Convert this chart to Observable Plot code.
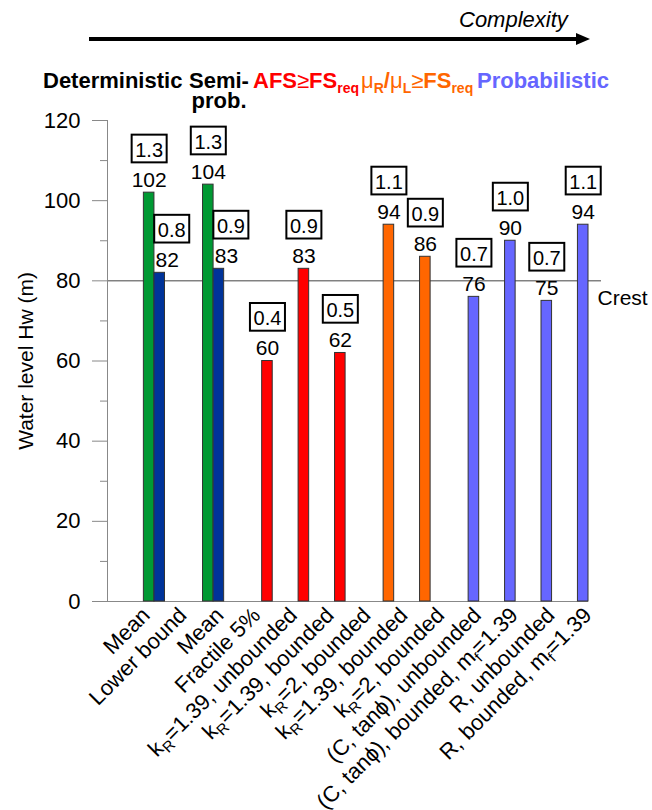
<!DOCTYPE html>
<html><head><meta charset="utf-8">
<script src="https://cdn.jsdelivr.net/npm/d3@7"></script>
<script src="https://cdn.jsdelivr.net/npm/@observablehq/plot@0.6"></script>
<style>
html,body{margin:0;padding:0;background:#fff;}
#root{width:652px;height:810px;position:relative;font-family:"Liberation Sans",Arial,sans-serif;}
</style></head><body><div id="root"></div>
<script>
// ---- data ----
const categories = ["Mean","Lower bound","Mean","Fractile 5%","k_R=1.39, unbounded","k_R=1.39, bounded","k_R=2, bounded","k_R=1.39, bounded","k_R=2, bounded","(C, tan\u03D5), unbounded","(C, tan\u03D5), bounded, m_f=1.39","R, unbounded","R, bounded, m_f=1.39"];
const waterLevels = [102, 82, 104, 83, 60, 83, 62, 94, 86, 76, 90, 75, 94];
const safetyRatios = ["1.3","0.8","1.3","0.9","0.4","0.9","0.5","1.1","0.9","0.7","1.0","0.7","1.1"];
const methodGroups = ["Deterministic","Deterministic","Semi-prob.","Semi-prob.","AFS","AFS","AFS","mu","mu","Probabilistic","Probabilistic","Probabilistic","Probabilistic"];
const seriesKinds = ["mean","lower","mean","lower","afs","afs","afs","mu","mu","prob","prob","prob","prob"];
const seriesNames = ["mean","lower","afs","mu","prob"];
const seriesColors = ["#009933","#003399","#ff0000","#ff6600","#6666ff"];
const yTicks = [0, 20, 40, 60, 80, 100, 120];
const yMinorTicks = [10, 30, 50, 70, 90, 110];
const crestLevel = 80;
const pairedGroups = ["Deterministic","Semi-prob."];

// ---- layout (x-scale units) ----
const barWidth = 0.87, singleStep = 3, groupGap = 4, labelStep = 3.03, leftPad = 3.43;
let p = 0;
const data = categories.map((c, i) => {
  if (i > 0) p += methodGroups[i] !== methodGroups[i-1] ? groupGap : (pairedGroups.includes(methodGroups[i]) ? barWidth : singleStep);
  return {i, category: c, value: waterLevels[i], ratio: safetyRatios[i], group: methodGroups[i], kind: seriesKinds[i], pos: p, labelPos: i * labelStep};
});
const lastPos = p;
const FONT = '"Liberation Sans", Arial, sans-serif';
const ns = "http://www.w3.org/2000/svg";

// ---- header ----
const root = document.getElementById("root");
const header = d3.create("svg").attr("width", 652).attr("height", 114).style("display","block").style("font-family", FONT);
header.append("text").attr("x", 459).attr("y", 27).attr("font-style","italic").attr("font-size", 22).text("Complexity");
header.append("line").attr("x1", 89).attr("x2", 580).attr("y1", 39).attr("y2", 39).attr("stroke","black").attr("stroke-width", 4);
header.append("path").attr("d","M576,33 L590,39 L576,45 Z").attr("fill","black");
function hText(x, y, parts, color, anchor) {
  const t = header.append("text").attr("x", x).attr("y", y).attr("font-size", 22).attr("fill", color).attr("text-anchor", anchor || "start");
  parts.forEach(o => {
    const ts = t.append("tspan").text(o.t);
    ts.attr("font-weight", o.normal ? "normal" : "bold");
    if (o.size) ts.attr("font-size", o.size);
    if (o.dy) ts.attr("dy", o.dy);
  });
}
hText(43, 88, [{t: "Deterministic"}], "black");
hText(219, 88, [{t: "Semi-"}], "black", "middle");
hText(219, 108, [{t: "prob."}], "black", "middle");
hText(253, 88, [{t: "AFS"}, {t: "\u2265", normal: true}, {t: "FS"}, {t: "req", size: 14, dy: 5}], "#ff0000");
hText(361, 88, [
  {t: "\u03BC", normal: true}, {t: "R", size: 14, dy: 5}, {t: "/", dy: -5},
  {t: "\u03BC", normal: true}, {t: "L", size: 14, dy: 5}, {t: "\u2265", normal: true, dy: -5},
  {t: "FS"}, {t: "req", size: 14, dy: 5}], "#ff6600");
hText(477, 88, [{t: "Probabilistic"}], "#6666ff");
root.append(header.node());

// ---- chart ----
const notLower = data.filter(d => d.kind !== "lower");
const lower = data.filter(d => d.kind === "lower");
const chart = Plot.plot({
  width: 652, height: 696,
  marginTop: 6, marginBottom: 209, marginLeft: 107, marginRight: 64,
  style: {fontFamily: FONT, fontSize: "22px", background: "white", color: "black", overflow: "visible"},
  x: {domain: [-leftPad, lastPos + barWidth / 2], axis: null},
  y: {domain: [0, 120], axis: null},
  color: {domain: seriesNames, range: seriesColors},
  marks: [
    Plot.ruleY([crestLevel], {stroke: "#444", strokeWidth: 1, insetRight: -13}),
    Plot.axisY({ticks: yTicks, tickSize: 15, tickPadding: 12, stroke: "#888", fill: "black", label: null}),
    Plot.axisY({ticks: yMinorTicks, tickSize: 7, tickFormat: () => "", stroke: "#888", label: null}),
    Plot.ruleX([-leftPad], {y1: 0, y2: 120, stroke: "#888"}),
    Plot.ruleY([0], {stroke: "#888"}),
    Plot.rectY(data, {x1: d => d.pos - barWidth / 2, x2: d => d.pos + barWidth / 2, y: "value", fill: "kind", stroke: "#333", strokeWidth: 1}),
    // text marks (order matters for post-processing below)
    Plot.text(notLower, {x: "pos", y: "value", text: d => String(d.value), lineAnchor: "bottom", dy: -6, fontSize: 21}),
    Plot.text(lower, {x: "pos", y: "value", text: d => String(d.value), lineAnchor: "bottom", dy: -6, dx: 7.5, fontSize: 21}),
    Plot.text(notLower, {x: "pos", y: "value", text: "ratio", lineAnchor: "bottom", dy: -36, fontSize: 20}),
    Plot.text(lower, {x: "pos", y: "value", text: "ratio", lineAnchor: "bottom", dy: -36, dx: 12, fontSize: 20}),
    Plot.text(data, {x: "labelPos", y: () => 0, text: "category", rotate: -45, textAnchor: "end", lineAnchor: "top", dx: -9, dy: 4, fontSize: 22}),
    Plot.text([{label: "Crest", level: crestLevel}], {y: "level", text: "label", frameAnchor: "right", textAnchor: "start", dx: 9, dy: 17, fontSize: 21}),
    Plot.text([{label: "Water level Hw (m)"}], {text: "label", frameAnchor: "left", textAnchor: "middle", rotate: -90, dx: -81, fontSize: 21})
  ]
});
root.append(chart);

const textGroups = chart.querySelectorAll('g[aria-label="text"]');

// boxes around ratio labels
[textGroups[2], textGroups[3]].forEach(g => g && g.querySelectorAll("text").forEach(t => {
  const b = t.getBBox();
  const r = document.createElementNS(ns, "rect");
  r.setAttribute("x", b.x - 3.6);
  r.setAttribute("y", b.y - 4);
  r.setAttribute("width", b.width + 7.2);
  r.setAttribute("height", b.height + 5.7);
  r.setAttribute("fill", "white");
  r.setAttribute("stroke", "black");
  r.setAttribute("stroke-width", 2);
  if (t.getAttribute("transform")) r.setAttribute("transform", t.getAttribute("transform"));
  t.parentNode.insertBefore(r, t);
}));

// subscripts in category labels
if (textGroups[4]) textGroups[4].querySelectorAll("text").forEach(t => {
  const s = t.textContent;
  if (!s.includes("_")) return;
  const parts = s.split(/_(\w)/);
  t.textContent = "";
  parts.forEach((part, j) => {
    if (!part) return;
    const ts = document.createElementNS(ns, "tspan");
    ts.textContent = part;
    if (j % 2 === 1) { ts.setAttribute("dy", "5"); ts.setAttribute("font-size", "15"); }
    else if (j > 0) ts.setAttribute("dy", "-5");
    t.appendChild(ts);
  });
});
</script></body></html>
